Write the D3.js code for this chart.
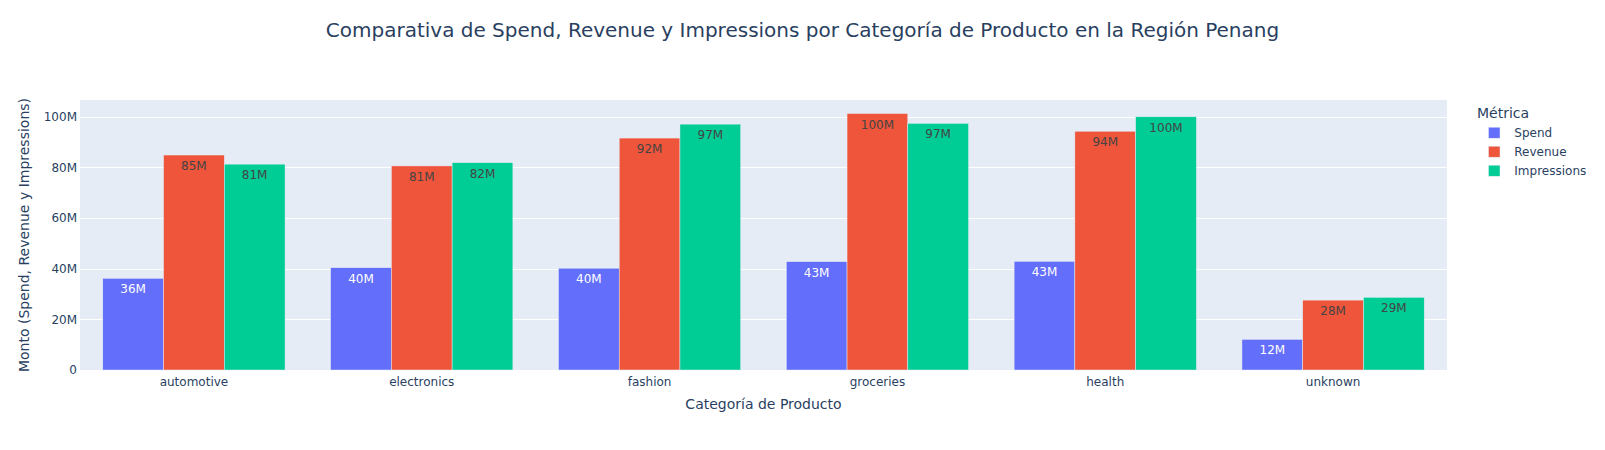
<!DOCTYPE html>
<html>
<head>
<meta charset="utf-8">
<script src="https://cdn.jsdelivr.net/npm/d3@7"></script>
<style>
  html, body { margin: 0; padding: 0; background: #fff; }
  svg { display: block; font-family: "DejaVu Sans", verdana, arial, sans-serif; }
</style>
</head>
<body>
<div id="chart"></div>
<script>
// ---- Data ----
const categories = ["automotive", "electronics", "fashion", "groceries", "health", "unknown"];
const seriesNames = ["Spend", "Revenue", "Impressions"];
const spendValues = [36.2e6, 40.4e6, 40.2e6, 42.8e6, 42.9e6, 12.1e6];
const revenueValues = [84.9e6, 80.6e6, 91.6e6, 101.3e6, 94.3e6, 27.6e6];
const impressionsValues = [81.3e6, 81.9e6, 97.1e6, 97.4e6, 100.0e6, 28.7e6];
const yTickValues = [0, 20e6, 40e6, 60e6, 80e6, 100e6];
const seriesColors = ["#636efa", "#EF553B", "#00cc96"];
const labelColors = ["#ffffff", "#444444", "#444444"];

const titleText = "Comparativa de Spend, Revenue y Impressions por Categoría de Producto en la Región Penang";
const xTitle = "Categoría de Producto";
const yTitle = "Monto (Spend, Revenue y Impressions)";
const legendTitle = "Métrica";

// ---- Layout ----
const W = 1605, H = 450;
const margin = { l: 80, r: 158, t: 100, b: 80 };
const plotW = W - margin.l - margin.r;
const plotH = H - margin.t - margin.b;
const textColor = "#2a3f5f";
const FONT = "'DejaVu Sans', verdana, arial, sans-serif";

const allSeries = [spendValues, revenueValues, impressionsValues];
const rows = categories.map((c, i) => ({
  cat: c,
  vals: seriesNames.map((s, j) => ({ series: s, idx: j, value: allSeries[j][i] }))
}));

const svg = d3.select("#chart").append("svg")
  .attr("width", W).attr("height", H);

const maxVal = d3.max(allSeries.flat());
const y = d3.scaleLinear().domain([0, maxVal / 0.95]).range([margin.t + plotH, margin.t]);
const x0 = d3.scaleBand().domain(categories)
  .range([margin.l, margin.l + plotW]).paddingInner(0.2).paddingOuter(0.1);
const x1 = d3.scaleBand().domain(seriesNames).range([0, x0.bandwidth()]).padding(0);

// plot background
svg.append("rect")
  .attr("x", margin.l).attr("y", margin.t)
  .attr("width", plotW).attr("height", plotH)
  .attr("fill", "#E5ECF6");

// gridlines
svg.append("g").selectAll("line")
  .data(yTickValues.filter(d => d > 0))
  .join("line")
  .attr("x1", margin.l).attr("x2", margin.l + plotW)
  .attr("y1", d => Math.round(y(d)) + 0.5).attr("y2", d => Math.round(y(d)) + 0.5)
  .attr("stroke", "#ffffff").attr("stroke-width", 1);

// y axis (labels only)
const yAxis = d3.axisLeft(y).tickValues(yTickValues).tickFormat(d3.format("~s")).tickSize(0).tickPadding(3);
const gy = svg.append("g").attr("transform", `translate(${margin.l},0)`).call(yAxis);
gy.select(".domain").remove();
gy.selectAll("text").attr("fill", textColor).attr("font-size", 12).attr("font-family", FONT);

// x axis (labels only)
const xAxis = d3.axisBottom(x0).tickSize(0).tickPadding(7);
const gx = svg.append("g").attr("transform", `translate(0,${margin.t + plotH})`).call(xAxis);
gx.select(".domain").remove();
gx.selectAll("text").attr("fill", textColor).attr("font-size", 12).attr("font-family", FONT);

// bars
const groups = svg.append("g").selectAll("g")
  .data(rows).join("g")
  .attr("transform", d => `translate(${x0(d.cat)},0)`);

groups.selectAll("rect")
  .data(d => d.vals).join("rect")
  .attr("x", d => x1(d.series))
  .attr("y", d => y(d.value))
  .attr("width", x1.bandwidth())
  .attr("height", d => y(0) - y(d.value))
  .attr("fill", d => seriesColors[d.idx])
  .attr("stroke", "#E5ECF6").attr("stroke-width", 0.5);

const fmt = d3.format(".2s");
groups.selectAll("text")
  .data(d => d.vals).join("text")
  .attr("x", d => x1(d.series) + x1.bandwidth() / 2)
  .attr("y", d => y(d.value) + 15)
  .attr("text-anchor", "middle")
  .attr("font-size", 12)
  .attr("fill", d => labelColors[d.idx])
  .text(d => fmt(d.value));

// title
svg.append("text")
  .attr("x", W / 2).attr("y", 36.7)
  .attr("text-anchor", "middle")
  .attr("font-size", 20)
  .attr("fill", textColor)
  .text(titleText);

// axis titles
svg.append("text")
  .attr("x", margin.l + plotW / 2).attr("y", 408.5)
  .attr("text-anchor", "middle")
  .attr("font-size", 14).attr("fill", textColor)
  .text(xTitle);

svg.append("text")
  .attr("transform", `translate(29,${margin.t + plotH / 2}) rotate(-90)`)
  .attr("text-anchor", "middle")
  .attr("font-size", 14).attr("fill", textColor)
  .text(yTitle);

// legend
const legend = svg.append("g");
legend.append("text")
  .attr("x", 1477).attr("y", 118.3)
  .attr("font-size", 14).attr("fill", textColor)
  .text(legendTitle);

const items = legend.selectAll("g.item")
  .data(seriesNames).join("g").attr("class", "item")
  .attr("transform", (d, i) => `translate(0,${132.7 + i * 19})`);
items.append("rect")
  .attr("x", 1488.5).attr("y", -5.5)
  .attr("width", 11.5).attr("height", 11)
  .attr("fill", (d, i) => seriesColors[i])
  .attr("stroke", "#E5ECF6").attr("stroke-width", 0.5);
items.append("text")
  .attr("x", 1514.3).attr("y", 4)
  .attr("font-size", 12).attr("fill", textColor)
  .text(d => d);
</script>
</body>
</html>
